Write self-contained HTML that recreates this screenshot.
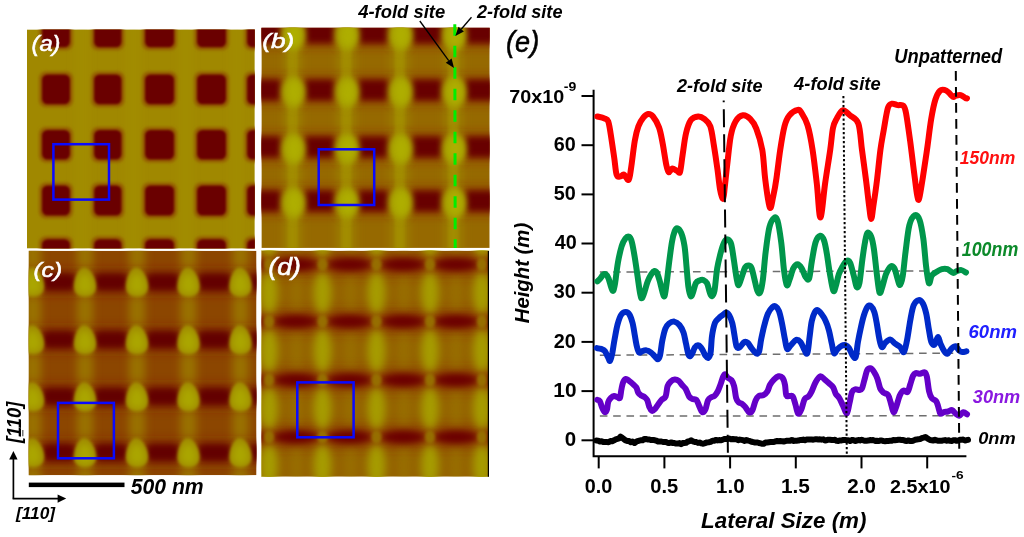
<!DOCTYPE html>
<html><head><meta charset="utf-8"><title>Figure</title>
<style>
html,body{margin:0;padding:0;background:#fff;}
body{width:1024px;height:537px;overflow:hidden;font-family:"Liberation Sans", sans-serif;}
svg{display:block;filter:blur(0.4px);}
</style></head><body>
<svg width="1024" height="537" viewBox="0 0 1024 537">
<defs>
<filter id="b1" x="-20%" y="-20%" width="140%" height="140%"><feGaussianBlur stdDeviation="1"/></filter>
<filter id="b2" x="-20%" y="-20%" width="140%" height="140%"><feGaussianBlur stdDeviation="1.6"/></filter>
<filter id="b4" x="-30%" y="-30%" width="160%" height="160%"><feGaussianBlur stdDeviation="4"/></filter>
<filter id="b6" x="-30%" y="-30%" width="160%" height="160%"><feGaussianBlur stdDeviation="6"/></filter>
<filter id="b3" x="-30%" y="-30%" width="160%" height="160%"><feGaussianBlur stdDeviation="3"/></filter>
<clipPath id="ca"><rect x="27" y="29.4" width="227.8" height="219.2"/></clipPath>
<clipPath id="cb"><rect x="261.4" y="27.8" width="228.3" height="220.1"/></clipPath>
<clipPath id="cc"><rect x="28.7" y="250.8" width="227.8" height="224.4"/></clipPath>
<clipPath id="cd"><rect x="261.4" y="250.8" width="227" height="225.9"/></clipPath>
</defs>

<g clip-path="url(#ca)">
<rect x="27" y="29.4" width="227.8" height="219.2" fill="#a08800"/>
<g filter="url(#b4)">
<rect x="75.5" y="20" width="13.1" height="240" fill="#a69400" opacity="0.4"/>
<rect x="127.0" y="20" width="12.5" height="240" fill="#a69400" opacity="0.4"/>
<rect x="179.6" y="20" width="11.9" height="240" fill="#a69400" opacity="0.4"/>
<rect x="231.5" y="20" width="10.1" height="240" fill="#a69400" opacity="0.4"/>
</g>
<g filter="url(#b2)">
<rect x="39.0" y="14.5" width="34.0" height="35.8" rx="7" fill="#945c00"/>
<rect x="39.0" y="71.5" width="34.0" height="35.8" rx="7" fill="#945c00"/>
<rect x="39.0" y="127.0" width="34.0" height="35.5" rx="7" fill="#945c00"/>
<rect x="39.0" y="182.5" width="34.0" height="36.0" rx="7" fill="#945c00"/>
<rect x="39.0" y="236.2" width="34.0" height="35.3" rx="7" fill="#945c00"/>
<rect x="91.1" y="14.5" width="33.4" height="35.8" rx="7" fill="#945c00"/>
<rect x="91.1" y="71.5" width="33.4" height="35.8" rx="7" fill="#945c00"/>
<rect x="91.1" y="127.0" width="33.4" height="35.5" rx="7" fill="#945c00"/>
<rect x="91.1" y="182.5" width="33.4" height="36.0" rx="7" fill="#945c00"/>
<rect x="91.1" y="236.2" width="33.4" height="35.3" rx="7" fill="#945c00"/>
<rect x="142.0" y="14.5" width="35.1" height="35.8" rx="7" fill="#945c00"/>
<rect x="142.0" y="71.5" width="35.1" height="35.8" rx="7" fill="#945c00"/>
<rect x="142.0" y="127.0" width="35.1" height="35.5" rx="7" fill="#945c00"/>
<rect x="142.0" y="182.5" width="35.1" height="36.0" rx="7" fill="#945c00"/>
<rect x="142.0" y="236.2" width="35.1" height="35.3" rx="7" fill="#945c00"/>
<rect x="194.0" y="14.5" width="35.0" height="35.8" rx="7" fill="#945c00"/>
<rect x="194.0" y="71.5" width="35.0" height="35.8" rx="7" fill="#945c00"/>
<rect x="194.0" y="127.0" width="35.0" height="35.5" rx="7" fill="#945c00"/>
<rect x="194.0" y="182.5" width="35.0" height="36.0" rx="7" fill="#945c00"/>
<rect x="194.0" y="236.2" width="35.0" height="35.3" rx="7" fill="#945c00"/>
<rect x="244.1" y="14.5" width="34.4" height="35.8" rx="7" fill="#945c00"/>
<rect x="244.1" y="71.5" width="34.4" height="35.8" rx="7" fill="#945c00"/>
<rect x="244.1" y="127.0" width="34.4" height="35.5" rx="7" fill="#945c00"/>
<rect x="244.1" y="182.5" width="34.4" height="36.0" rx="7" fill="#945c00"/>
<rect x="244.1" y="236.2" width="34.4" height="35.3" rx="7" fill="#945c00"/>
</g>
<g filter="url(#b1)">
<rect x="42.0" y="17.5" width="28.0" height="29.8" rx="5.5" fill="#6a0000"/>
<rect x="42.0" y="74.5" width="28.0" height="29.8" rx="5.5" fill="#6a0000"/>
<rect x="42.0" y="130.0" width="28.0" height="29.5" rx="5.5" fill="#6a0000"/>
<rect x="42.0" y="185.5" width="28.0" height="30.0" rx="5.5" fill="#6a0000"/>
<rect x="42.0" y="239.2" width="28.0" height="29.3" rx="5.5" fill="#6a0000"/>
<rect x="94.1" y="17.5" width="27.4" height="29.8" rx="5.5" fill="#6a0000"/>
<rect x="94.1" y="74.5" width="27.4" height="29.8" rx="5.5" fill="#6a0000"/>
<rect x="94.1" y="130.0" width="27.4" height="29.5" rx="5.5" fill="#6a0000"/>
<rect x="94.1" y="185.5" width="27.4" height="30.0" rx="5.5" fill="#6a0000"/>
<rect x="94.1" y="239.2" width="27.4" height="29.3" rx="5.5" fill="#6a0000"/>
<rect x="145.0" y="17.5" width="29.1" height="29.8" rx="5.5" fill="#6a0000"/>
<rect x="145.0" y="74.5" width="29.1" height="29.8" rx="5.5" fill="#6a0000"/>
<rect x="145.0" y="130.0" width="29.1" height="29.5" rx="5.5" fill="#6a0000"/>
<rect x="145.0" y="185.5" width="29.1" height="30.0" rx="5.5" fill="#6a0000"/>
<rect x="145.0" y="239.2" width="29.1" height="29.3" rx="5.5" fill="#6a0000"/>
<rect x="197.0" y="17.5" width="29.0" height="29.8" rx="5.5" fill="#6a0000"/>
<rect x="197.0" y="74.5" width="29.0" height="29.8" rx="5.5" fill="#6a0000"/>
<rect x="197.0" y="130.0" width="29.0" height="29.5" rx="5.5" fill="#6a0000"/>
<rect x="197.0" y="185.5" width="29.0" height="30.0" rx="5.5" fill="#6a0000"/>
<rect x="197.0" y="239.2" width="29.0" height="29.3" rx="5.5" fill="#6a0000"/>
<rect x="247.1" y="17.5" width="28.4" height="29.8" rx="5.5" fill="#6a0000"/>
<rect x="247.1" y="74.5" width="28.4" height="29.8" rx="5.5" fill="#6a0000"/>
<rect x="247.1" y="130.0" width="28.4" height="29.5" rx="5.5" fill="#6a0000"/>
<rect x="247.1" y="185.5" width="28.4" height="30.0" rx="5.5" fill="#6a0000"/>
<rect x="247.1" y="239.2" width="28.4" height="29.3" rx="5.5" fill="#6a0000"/>
</g>
</g>
<g clip-path="url(#cb)">
<rect x="261.4" y="27.8" width="228.3" height="220.1" fill="#966900"/>
<g filter="url(#b4)">
<rect x="230.0" y="20" width="18" height="240" fill="#9c8000"/>
<rect x="283.6" y="20" width="18" height="240" fill="#9c8000"/>
<rect x="337.3" y="20" width="18" height="240" fill="#9c8000"/>
<rect x="390.8" y="20" width="18" height="240" fill="#9c8000"/>
<rect x="444.5" y="20" width="18" height="240" fill="#9c8000"/>
<rect x="498.0" y="20" width="18" height="240" fill="#9c8000"/>
</g>
<g filter="url(#b6)">
<rect x="250" y="21.0" width="260" height="24" fill="#8a2800" opacity="0.8"/>
<rect x="250" y="78.0" width="260" height="24" fill="#8a2800" opacity="0.8"/>
<rect x="250" y="135.0" width="260" height="24" fill="#8a2800" opacity="0.8"/>
<rect x="250" y="189.0" width="260" height="24" fill="#8a2800" opacity="0.8"/>
</g>
<g filter="url(#b2)">
<rect x="234.0" y="20" width="10" height="240" fill="#a89a00" opacity="0.5"/>
<rect x="287.6" y="20" width="10" height="240" fill="#a89a00" opacity="0.5"/>
<rect x="341.3" y="20" width="10" height="240" fill="#a89a00" opacity="0.5"/>
<rect x="394.8" y="20" width="10" height="240" fill="#a89a00" opacity="0.5"/>
<rect x="448.5" y="20" width="10" height="240" fill="#a89a00" opacity="0.5"/>
<rect x="502.0" y="20" width="10" height="240" fill="#a89a00" opacity="0.5"/>
</g>
<g filter="url(#b3)">
<rect x="248.8" y="23.0" width="34" height="20" rx="7" fill="#680000"/>
<rect x="302.5" y="23.0" width="34" height="20" rx="7" fill="#680000"/>
<rect x="356.1" y="23.0" width="34" height="20" rx="7" fill="#680000"/>
<rect x="409.6" y="23.0" width="34" height="20" rx="7" fill="#680000"/>
<rect x="463.2" y="23.0" width="34" height="20" rx="7" fill="#680000"/>
<rect x="248.8" y="80.0" width="34" height="20" rx="7" fill="#680000"/>
<rect x="302.5" y="80.0" width="34" height="20" rx="7" fill="#680000"/>
<rect x="356.1" y="80.0" width="34" height="20" rx="7" fill="#680000"/>
<rect x="409.6" y="80.0" width="34" height="20" rx="7" fill="#680000"/>
<rect x="463.2" y="80.0" width="34" height="20" rx="7" fill="#680000"/>
<rect x="248.8" y="137.0" width="34" height="20" rx="7" fill="#680000"/>
<rect x="302.5" y="137.0" width="34" height="20" rx="7" fill="#680000"/>
<rect x="356.1" y="137.0" width="34" height="20" rx="7" fill="#680000"/>
<rect x="409.6" y="137.0" width="34" height="20" rx="7" fill="#680000"/>
<rect x="463.2" y="137.0" width="34" height="20" rx="7" fill="#680000"/>
<rect x="248.8" y="191.0" width="34" height="20" rx="7" fill="#680000"/>
<rect x="302.5" y="191.0" width="34" height="20" rx="7" fill="#680000"/>
<rect x="356.1" y="191.0" width="34" height="20" rx="7" fill="#680000"/>
<rect x="409.6" y="191.0" width="34" height="20" rx="7" fill="#680000"/>
<rect x="463.2" y="191.0" width="34" height="20" rx="7" fill="#680000"/>
</g>
<g filter="url(#b3)">
<ellipse cx="239.5" cy="35.0" rx="12.5" ry="17" fill="#a49c00"/>
<ellipse cx="293.1" cy="35.0" rx="12.5" ry="17" fill="#a49c00"/>
<ellipse cx="346.8" cy="35.0" rx="12.5" ry="17" fill="#a49c00"/>
<ellipse cx="400.3" cy="35.0" rx="12.5" ry="17" fill="#a49c00"/>
<ellipse cx="454.0" cy="35.0" rx="12.5" ry="17" fill="#a49c00"/>
<ellipse cx="507.5" cy="35.0" rx="12.5" ry="17" fill="#a49c00"/>
<ellipse cx="239.5" cy="92.0" rx="12.5" ry="17" fill="#a49c00"/>
<ellipse cx="293.1" cy="92.0" rx="12.5" ry="17" fill="#a49c00"/>
<ellipse cx="346.8" cy="92.0" rx="12.5" ry="17" fill="#a49c00"/>
<ellipse cx="400.3" cy="92.0" rx="12.5" ry="17" fill="#a49c00"/>
<ellipse cx="454.0" cy="92.0" rx="12.5" ry="17" fill="#a49c00"/>
<ellipse cx="507.5" cy="92.0" rx="12.5" ry="17" fill="#a49c00"/>
<ellipse cx="239.5" cy="149.0" rx="12.5" ry="17" fill="#a49c00"/>
<ellipse cx="293.1" cy="149.0" rx="12.5" ry="17" fill="#a49c00"/>
<ellipse cx="346.8" cy="149.0" rx="12.5" ry="17" fill="#a49c00"/>
<ellipse cx="400.3" cy="149.0" rx="12.5" ry="17" fill="#a49c00"/>
<ellipse cx="454.0" cy="149.0" rx="12.5" ry="17" fill="#a49c00"/>
<ellipse cx="507.5" cy="149.0" rx="12.5" ry="17" fill="#a49c00"/>
<ellipse cx="239.5" cy="203.0" rx="12.5" ry="17" fill="#a49c00"/>
<ellipse cx="293.1" cy="203.0" rx="12.5" ry="17" fill="#a49c00"/>
<ellipse cx="346.8" cy="203.0" rx="12.5" ry="17" fill="#a49c00"/>
<ellipse cx="400.3" cy="203.0" rx="12.5" ry="17" fill="#a49c00"/>
<ellipse cx="454.0" cy="203.0" rx="12.5" ry="17" fill="#a49c00"/>
<ellipse cx="507.5" cy="203.0" rx="12.5" ry="17" fill="#a49c00"/>
</g>
<g filter="url(#b3)">
<ellipse cx="240.5" cy="35.0" rx="8" ry="12" fill="#aeae00"/>
<ellipse cx="294.1" cy="35.0" rx="8" ry="12" fill="#aeae00"/>
<ellipse cx="347.8" cy="35.0" rx="8" ry="12" fill="#aeae00"/>
<ellipse cx="401.3" cy="35.0" rx="8" ry="12" fill="#aeae00"/>
<ellipse cx="455.0" cy="35.0" rx="8" ry="12" fill="#aeae00"/>
<ellipse cx="508.5" cy="35.0" rx="8" ry="12" fill="#aeae00"/>
<ellipse cx="240.5" cy="92.0" rx="8" ry="12" fill="#aeae00"/>
<ellipse cx="294.1" cy="92.0" rx="8" ry="12" fill="#aeae00"/>
<ellipse cx="347.8" cy="92.0" rx="8" ry="12" fill="#aeae00"/>
<ellipse cx="401.3" cy="92.0" rx="8" ry="12" fill="#aeae00"/>
<ellipse cx="455.0" cy="92.0" rx="8" ry="12" fill="#aeae00"/>
<ellipse cx="508.5" cy="92.0" rx="8" ry="12" fill="#aeae00"/>
<ellipse cx="240.5" cy="149.0" rx="8" ry="12" fill="#aeae00"/>
<ellipse cx="294.1" cy="149.0" rx="8" ry="12" fill="#aeae00"/>
<ellipse cx="347.8" cy="149.0" rx="8" ry="12" fill="#aeae00"/>
<ellipse cx="401.3" cy="149.0" rx="8" ry="12" fill="#aeae00"/>
<ellipse cx="455.0" cy="149.0" rx="8" ry="12" fill="#aeae00"/>
<ellipse cx="508.5" cy="149.0" rx="8" ry="12" fill="#aeae00"/>
<ellipse cx="240.5" cy="203.0" rx="8" ry="12" fill="#aeae00"/>
<ellipse cx="294.1" cy="203.0" rx="8" ry="12" fill="#aeae00"/>
<ellipse cx="347.8" cy="203.0" rx="8" ry="12" fill="#aeae00"/>
<ellipse cx="401.3" cy="203.0" rx="8" ry="12" fill="#aeae00"/>
<ellipse cx="455.0" cy="203.0" rx="8" ry="12" fill="#aeae00"/>
<ellipse cx="508.5" cy="203.0" rx="8" ry="12" fill="#aeae00"/>
</g>
</g>
<g clip-path="url(#cc)">
<rect x="28.7" y="250.8" width="227.8" height="224.4" fill="#8c4600"/>
<g filter="url(#b4)">
<rect x="-27.0" y="240" width="16" height="250" fill="#9a7200"/>
<rect x="25.0" y="240" width="16" height="250" fill="#9a7200"/>
<rect x="77.0" y="240" width="16" height="250" fill="#9a7200"/>
<rect x="129.0" y="240" width="16" height="250" fill="#9a7200"/>
<rect x="180.5" y="240" width="16" height="250" fill="#9a7200"/>
<rect x="232.5" y="240" width="16" height="250" fill="#9a7200"/>
<rect x="284.5" y="240" width="16" height="250" fill="#9a7200"/>
</g>
<g filter="url(#b6)">
<rect x="20" y="271.0" width="250" height="22" fill="#7e2000" opacity="0.75"/>
<rect x="20" y="328.5" width="250" height="22" fill="#7e2000" opacity="0.75"/>
<rect x="20" y="385.5" width="250" height="22" fill="#7e2000" opacity="0.75"/>
<rect x="20" y="441.5" width="250" height="22" fill="#7e2000" opacity="0.75"/>
</g>
<g filter="url(#b3)">
<rect x="-10.0" y="273.5" width="34" height="17" rx="7" fill="#640000"/>
<rect x="42.0" y="273.5" width="34" height="17" rx="7" fill="#640000"/>
<rect x="94.0" y="273.5" width="34" height="17" rx="7" fill="#640000"/>
<rect x="145.8" y="273.5" width="34" height="17" rx="7" fill="#640000"/>
<rect x="197.5" y="273.5" width="34" height="17" rx="7" fill="#640000"/>
<rect x="249.5" y="273.5" width="34" height="17" rx="7" fill="#640000"/>
<rect x="-10.0" y="331.0" width="34" height="17" rx="7" fill="#640000"/>
<rect x="42.0" y="331.0" width="34" height="17" rx="7" fill="#640000"/>
<rect x="94.0" y="331.0" width="34" height="17" rx="7" fill="#640000"/>
<rect x="145.8" y="331.0" width="34" height="17" rx="7" fill="#640000"/>
<rect x="197.5" y="331.0" width="34" height="17" rx="7" fill="#640000"/>
<rect x="249.5" y="331.0" width="34" height="17" rx="7" fill="#640000"/>
<rect x="-10.0" y="388.0" width="34" height="17" rx="7" fill="#640000"/>
<rect x="42.0" y="388.0" width="34" height="17" rx="7" fill="#640000"/>
<rect x="94.0" y="388.0" width="34" height="17" rx="7" fill="#640000"/>
<rect x="145.8" y="388.0" width="34" height="17" rx="7" fill="#640000"/>
<rect x="197.5" y="388.0" width="34" height="17" rx="7" fill="#640000"/>
<rect x="249.5" y="388.0" width="34" height="17" rx="7" fill="#640000"/>
<rect x="-10.0" y="444.0" width="34" height="17" rx="7" fill="#640000"/>
<rect x="42.0" y="444.0" width="34" height="17" rx="7" fill="#640000"/>
<rect x="94.0" y="444.0" width="34" height="17" rx="7" fill="#640000"/>
<rect x="145.8" y="444.0" width="34" height="17" rx="7" fill="#640000"/>
<rect x="197.5" y="444.0" width="34" height="17" rx="7" fill="#640000"/>
<rect x="249.5" y="444.0" width="34" height="17" rx="7" fill="#640000"/>
</g>
<g filter="url(#b2)">
<path d="M-20.0,267.5 C-13.5,267.5 -8.0,278.5 -8.0,286.4 C-8.0,294.2 -13.5,296.5 -19.0,296.5 C-24.5,296.5 -30.0,294.2 -30.0,286.4 C-30.0,278.5 -25.6,267.5 -20.0,267.5 Z" fill="#a08c00"/>
<path d="M32.0,267.5 C38.5,267.5 44.0,278.5 44.0,286.4 C44.0,294.2 38.5,296.5 33.0,296.5 C27.5,296.5 22.0,294.2 22.0,286.4 C22.0,278.5 26.4,267.5 32.0,267.5 Z" fill="#a08c00"/>
<path d="M84.0,267.5 C90.5,267.5 96.0,278.5 96.0,286.4 C96.0,294.2 90.5,296.5 85.0,296.5 C79.5,296.5 74.0,294.2 74.0,286.4 C74.0,278.5 78.4,267.5 84.0,267.5 Z" fill="#a08c00"/>
<path d="M136.0,267.5 C142.5,267.5 148.0,278.5 148.0,286.4 C148.0,294.2 142.5,296.5 137.0,296.5 C131.5,296.5 126.0,294.2 126.0,286.4 C126.0,278.5 130.4,267.5 136.0,267.5 Z" fill="#a08c00"/>
<path d="M187.5,267.5 C194.0,267.5 199.5,278.5 199.5,286.4 C199.5,294.2 194.0,296.5 188.5,296.5 C183.0,296.5 177.5,294.2 177.5,286.4 C177.5,278.5 181.9,267.5 187.5,267.5 Z" fill="#a08c00"/>
<path d="M239.5,267.5 C246.0,267.5 251.5,278.5 251.5,286.4 C251.5,294.2 246.0,296.5 240.5,296.5 C235.0,296.5 229.5,294.2 229.5,286.4 C229.5,278.5 233.9,267.5 239.5,267.5 Z" fill="#a08c00"/>
<path d="M291.5,267.5 C298.0,267.5 303.5,278.5 303.5,286.4 C303.5,294.2 298.0,296.5 292.5,296.5 C287.0,296.5 281.5,294.2 281.5,286.4 C281.5,278.5 285.9,267.5 291.5,267.5 Z" fill="#a08c00"/>
<path d="M-20.0,325.0 C-13.5,325.0 -8.0,336.0 -8.0,343.9 C-8.0,351.7 -13.5,354.0 -19.0,354.0 C-24.5,354.0 -30.0,351.7 -30.0,343.9 C-30.0,336.0 -25.6,325.0 -20.0,325.0 Z" fill="#a08c00"/>
<path d="M32.0,325.0 C38.5,325.0 44.0,336.0 44.0,343.9 C44.0,351.7 38.5,354.0 33.0,354.0 C27.5,354.0 22.0,351.7 22.0,343.9 C22.0,336.0 26.4,325.0 32.0,325.0 Z" fill="#a08c00"/>
<path d="M84.0,325.0 C90.5,325.0 96.0,336.0 96.0,343.9 C96.0,351.7 90.5,354.0 85.0,354.0 C79.5,354.0 74.0,351.7 74.0,343.9 C74.0,336.0 78.4,325.0 84.0,325.0 Z" fill="#a08c00"/>
<path d="M136.0,325.0 C142.5,325.0 148.0,336.0 148.0,343.9 C148.0,351.7 142.5,354.0 137.0,354.0 C131.5,354.0 126.0,351.7 126.0,343.9 C126.0,336.0 130.4,325.0 136.0,325.0 Z" fill="#a08c00"/>
<path d="M187.5,325.0 C194.0,325.0 199.5,336.0 199.5,343.9 C199.5,351.7 194.0,354.0 188.5,354.0 C183.0,354.0 177.5,351.7 177.5,343.9 C177.5,336.0 181.9,325.0 187.5,325.0 Z" fill="#a08c00"/>
<path d="M239.5,325.0 C246.0,325.0 251.5,336.0 251.5,343.9 C251.5,351.7 246.0,354.0 240.5,354.0 C235.0,354.0 229.5,351.7 229.5,343.9 C229.5,336.0 233.9,325.0 239.5,325.0 Z" fill="#a08c00"/>
<path d="M291.5,325.0 C298.0,325.0 303.5,336.0 303.5,343.9 C303.5,351.7 298.0,354.0 292.5,354.0 C287.0,354.0 281.5,351.7 281.5,343.9 C281.5,336.0 285.9,325.0 291.5,325.0 Z" fill="#a08c00"/>
<path d="M-20.0,382.0 C-13.5,382.0 -8.0,393.0 -8.0,400.9 C-8.0,408.7 -13.5,411.0 -19.0,411.0 C-24.5,411.0 -30.0,408.7 -30.0,400.9 C-30.0,393.0 -25.6,382.0 -20.0,382.0 Z" fill="#a08c00"/>
<path d="M32.0,382.0 C38.5,382.0 44.0,393.0 44.0,400.9 C44.0,408.7 38.5,411.0 33.0,411.0 C27.5,411.0 22.0,408.7 22.0,400.9 C22.0,393.0 26.4,382.0 32.0,382.0 Z" fill="#a08c00"/>
<path d="M84.0,382.0 C90.5,382.0 96.0,393.0 96.0,400.9 C96.0,408.7 90.5,411.0 85.0,411.0 C79.5,411.0 74.0,408.7 74.0,400.9 C74.0,393.0 78.4,382.0 84.0,382.0 Z" fill="#a08c00"/>
<path d="M136.0,382.0 C142.5,382.0 148.0,393.0 148.0,400.9 C148.0,408.7 142.5,411.0 137.0,411.0 C131.5,411.0 126.0,408.7 126.0,400.9 C126.0,393.0 130.4,382.0 136.0,382.0 Z" fill="#a08c00"/>
<path d="M187.5,382.0 C194.0,382.0 199.5,393.0 199.5,400.9 C199.5,408.7 194.0,411.0 188.5,411.0 C183.0,411.0 177.5,408.7 177.5,400.9 C177.5,393.0 181.9,382.0 187.5,382.0 Z" fill="#a08c00"/>
<path d="M239.5,382.0 C246.0,382.0 251.5,393.0 251.5,400.9 C251.5,408.7 246.0,411.0 240.5,411.0 C235.0,411.0 229.5,408.7 229.5,400.9 C229.5,393.0 233.9,382.0 239.5,382.0 Z" fill="#a08c00"/>
<path d="M291.5,382.0 C298.0,382.0 303.5,393.0 303.5,400.9 C303.5,408.7 298.0,411.0 292.5,411.0 C287.0,411.0 281.5,408.7 281.5,400.9 C281.5,393.0 285.9,382.0 291.5,382.0 Z" fill="#a08c00"/>
<path d="M-20.0,438.0 C-13.5,438.0 -8.0,449.0 -8.0,456.9 C-8.0,464.7 -13.5,467.0 -19.0,467.0 C-24.5,467.0 -30.0,464.7 -30.0,456.9 C-30.0,449.0 -25.6,438.0 -20.0,438.0 Z" fill="#a08c00"/>
<path d="M32.0,438.0 C38.5,438.0 44.0,449.0 44.0,456.9 C44.0,464.7 38.5,467.0 33.0,467.0 C27.5,467.0 22.0,464.7 22.0,456.9 C22.0,449.0 26.4,438.0 32.0,438.0 Z" fill="#a08c00"/>
<path d="M84.0,438.0 C90.5,438.0 96.0,449.0 96.0,456.9 C96.0,464.7 90.5,467.0 85.0,467.0 C79.5,467.0 74.0,464.7 74.0,456.9 C74.0,449.0 78.4,438.0 84.0,438.0 Z" fill="#a08c00"/>
<path d="M136.0,438.0 C142.5,438.0 148.0,449.0 148.0,456.9 C148.0,464.7 142.5,467.0 137.0,467.0 C131.5,467.0 126.0,464.7 126.0,456.9 C126.0,449.0 130.4,438.0 136.0,438.0 Z" fill="#a08c00"/>
<path d="M187.5,438.0 C194.0,438.0 199.5,449.0 199.5,456.9 C199.5,464.7 194.0,467.0 188.5,467.0 C183.0,467.0 177.5,464.7 177.5,456.9 C177.5,449.0 181.9,438.0 187.5,438.0 Z" fill="#a08c00"/>
<path d="M239.5,438.0 C246.0,438.0 251.5,449.0 251.5,456.9 C251.5,464.7 246.0,467.0 240.5,467.0 C235.0,467.0 229.5,464.7 229.5,456.9 C229.5,449.0 233.9,438.0 239.5,438.0 Z" fill="#a08c00"/>
<path d="M291.5,438.0 C298.0,438.0 303.5,449.0 303.5,456.9 C303.5,464.7 298.0,467.0 292.5,467.0 C287.0,467.0 281.5,464.7 281.5,456.9 C281.5,449.0 285.9,438.0 291.5,438.0 Z" fill="#a08c00"/>
</g>
<g filter="url(#b3)">
<path d="M-20.0,273.0 C-15.0,273.0 -11.0,281.0 -11.0,286.6 C-11.0,292.3 -15.0,294.0 -19.0,294.0 C-23.0,294.0 -27.0,292.3 -27.0,286.6 C-27.0,281.0 -23.8,273.0 -20.0,273.0 Z" fill="#aaa600"/>
<path d="M32.0,273.0 C37.0,273.0 41.0,281.0 41.0,286.6 C41.0,292.3 37.0,294.0 33.0,294.0 C29.0,294.0 25.0,292.3 25.0,286.6 C25.0,281.0 28.2,273.0 32.0,273.0 Z" fill="#aaa600"/>
<path d="M84.0,273.0 C89.0,273.0 93.0,281.0 93.0,286.6 C93.0,292.3 89.0,294.0 85.0,294.0 C81.0,294.0 77.0,292.3 77.0,286.6 C77.0,281.0 80.2,273.0 84.0,273.0 Z" fill="#aaa600"/>
<path d="M136.0,273.0 C141.0,273.0 145.0,281.0 145.0,286.6 C145.0,292.3 141.0,294.0 137.0,294.0 C133.0,294.0 129.0,292.3 129.0,286.6 C129.0,281.0 132.2,273.0 136.0,273.0 Z" fill="#aaa600"/>
<path d="M187.5,273.0 C192.5,273.0 196.5,281.0 196.5,286.6 C196.5,292.3 192.5,294.0 188.5,294.0 C184.5,294.0 180.5,292.3 180.5,286.6 C180.5,281.0 183.7,273.0 187.5,273.0 Z" fill="#aaa600"/>
<path d="M239.5,273.0 C244.5,273.0 248.5,281.0 248.5,286.6 C248.5,292.3 244.5,294.0 240.5,294.0 C236.5,294.0 232.5,292.3 232.5,286.6 C232.5,281.0 235.7,273.0 239.5,273.0 Z" fill="#aaa600"/>
<path d="M291.5,273.0 C296.5,273.0 300.5,281.0 300.5,286.6 C300.5,292.3 296.5,294.0 292.5,294.0 C288.5,294.0 284.5,292.3 284.5,286.6 C284.5,281.0 287.7,273.0 291.5,273.0 Z" fill="#aaa600"/>
<path d="M-20.0,330.5 C-15.0,330.5 -11.0,338.5 -11.0,344.1 C-11.0,349.8 -15.0,351.5 -19.0,351.5 C-23.0,351.5 -27.0,349.8 -27.0,344.1 C-27.0,338.5 -23.8,330.5 -20.0,330.5 Z" fill="#aaa600"/>
<path d="M32.0,330.5 C37.0,330.5 41.0,338.5 41.0,344.1 C41.0,349.8 37.0,351.5 33.0,351.5 C29.0,351.5 25.0,349.8 25.0,344.1 C25.0,338.5 28.2,330.5 32.0,330.5 Z" fill="#aaa600"/>
<path d="M84.0,330.5 C89.0,330.5 93.0,338.5 93.0,344.1 C93.0,349.8 89.0,351.5 85.0,351.5 C81.0,351.5 77.0,349.8 77.0,344.1 C77.0,338.5 80.2,330.5 84.0,330.5 Z" fill="#aaa600"/>
<path d="M136.0,330.5 C141.0,330.5 145.0,338.5 145.0,344.1 C145.0,349.8 141.0,351.5 137.0,351.5 C133.0,351.5 129.0,349.8 129.0,344.1 C129.0,338.5 132.2,330.5 136.0,330.5 Z" fill="#aaa600"/>
<path d="M187.5,330.5 C192.5,330.5 196.5,338.5 196.5,344.1 C196.5,349.8 192.5,351.5 188.5,351.5 C184.5,351.5 180.5,349.8 180.5,344.1 C180.5,338.5 183.7,330.5 187.5,330.5 Z" fill="#aaa600"/>
<path d="M239.5,330.5 C244.5,330.5 248.5,338.5 248.5,344.1 C248.5,349.8 244.5,351.5 240.5,351.5 C236.5,351.5 232.5,349.8 232.5,344.1 C232.5,338.5 235.7,330.5 239.5,330.5 Z" fill="#aaa600"/>
<path d="M291.5,330.5 C296.5,330.5 300.5,338.5 300.5,344.1 C300.5,349.8 296.5,351.5 292.5,351.5 C288.5,351.5 284.5,349.8 284.5,344.1 C284.5,338.5 287.7,330.5 291.5,330.5 Z" fill="#aaa600"/>
<path d="M-20.0,387.5 C-15.0,387.5 -11.0,395.5 -11.0,401.1 C-11.0,406.8 -15.0,408.5 -19.0,408.5 C-23.0,408.5 -27.0,406.8 -27.0,401.1 C-27.0,395.5 -23.8,387.5 -20.0,387.5 Z" fill="#aaa600"/>
<path d="M32.0,387.5 C37.0,387.5 41.0,395.5 41.0,401.1 C41.0,406.8 37.0,408.5 33.0,408.5 C29.0,408.5 25.0,406.8 25.0,401.1 C25.0,395.5 28.2,387.5 32.0,387.5 Z" fill="#aaa600"/>
<path d="M84.0,387.5 C89.0,387.5 93.0,395.5 93.0,401.1 C93.0,406.8 89.0,408.5 85.0,408.5 C81.0,408.5 77.0,406.8 77.0,401.1 C77.0,395.5 80.2,387.5 84.0,387.5 Z" fill="#aaa600"/>
<path d="M136.0,387.5 C141.0,387.5 145.0,395.5 145.0,401.1 C145.0,406.8 141.0,408.5 137.0,408.5 C133.0,408.5 129.0,406.8 129.0,401.1 C129.0,395.5 132.2,387.5 136.0,387.5 Z" fill="#aaa600"/>
<path d="M187.5,387.5 C192.5,387.5 196.5,395.5 196.5,401.1 C196.5,406.8 192.5,408.5 188.5,408.5 C184.5,408.5 180.5,406.8 180.5,401.1 C180.5,395.5 183.7,387.5 187.5,387.5 Z" fill="#aaa600"/>
<path d="M239.5,387.5 C244.5,387.5 248.5,395.5 248.5,401.1 C248.5,406.8 244.5,408.5 240.5,408.5 C236.5,408.5 232.5,406.8 232.5,401.1 C232.5,395.5 235.7,387.5 239.5,387.5 Z" fill="#aaa600"/>
<path d="M291.5,387.5 C296.5,387.5 300.5,395.5 300.5,401.1 C300.5,406.8 296.5,408.5 292.5,408.5 C288.5,408.5 284.5,406.8 284.5,401.1 C284.5,395.5 287.7,387.5 291.5,387.5 Z" fill="#aaa600"/>
<path d="M-20.0,443.5 C-15.0,443.5 -11.0,451.5 -11.0,457.1 C-11.0,462.8 -15.0,464.5 -19.0,464.5 C-23.0,464.5 -27.0,462.8 -27.0,457.1 C-27.0,451.5 -23.8,443.5 -20.0,443.5 Z" fill="#aaa600"/>
<path d="M32.0,443.5 C37.0,443.5 41.0,451.5 41.0,457.1 C41.0,462.8 37.0,464.5 33.0,464.5 C29.0,464.5 25.0,462.8 25.0,457.1 C25.0,451.5 28.2,443.5 32.0,443.5 Z" fill="#aaa600"/>
<path d="M84.0,443.5 C89.0,443.5 93.0,451.5 93.0,457.1 C93.0,462.8 89.0,464.5 85.0,464.5 C81.0,464.5 77.0,462.8 77.0,457.1 C77.0,451.5 80.2,443.5 84.0,443.5 Z" fill="#aaa600"/>
<path d="M136.0,443.5 C141.0,443.5 145.0,451.5 145.0,457.1 C145.0,462.8 141.0,464.5 137.0,464.5 C133.0,464.5 129.0,462.8 129.0,457.1 C129.0,451.5 132.2,443.5 136.0,443.5 Z" fill="#aaa600"/>
<path d="M187.5,443.5 C192.5,443.5 196.5,451.5 196.5,457.1 C196.5,462.8 192.5,464.5 188.5,464.5 C184.5,464.5 180.5,462.8 180.5,457.1 C180.5,451.5 183.7,443.5 187.5,443.5 Z" fill="#aaa600"/>
<path d="M239.5,443.5 C244.5,443.5 248.5,451.5 248.5,457.1 C248.5,462.8 244.5,464.5 240.5,464.5 C236.5,464.5 232.5,462.8 232.5,457.1 C232.5,451.5 235.7,443.5 239.5,443.5 Z" fill="#aaa600"/>
<path d="M291.5,443.5 C296.5,443.5 300.5,451.5 300.5,457.1 C300.5,462.8 296.5,464.5 292.5,464.5 C288.5,464.5 284.5,462.8 284.5,457.1 C284.5,451.5 287.7,443.5 291.5,443.5 Z" fill="#aaa600"/>
</g>
</g>
<g clip-path="url(#cd)">
<rect x="261.4" y="250.8" width="227" height="225.9" fill="#946200"/>
<g filter="url(#b6)">
<rect x="250" y="254.5" width="250" height="20" fill="#8a2c00" opacity="0.8"/>
<rect x="250" y="311.5" width="250" height="20" fill="#8a2c00" opacity="0.8"/>
<rect x="250" y="370.0" width="250" height="20" fill="#8a2c00" opacity="0.8"/>
<rect x="250" y="427.0" width="250" height="20" fill="#8a2c00" opacity="0.8"/>
</g>
<g filter="url(#b4)">
<ellipse cx="269.0" cy="236.0" rx="9" ry="21.5" fill="#a69c00"/>
<ellipse cx="243.0" cy="236.0" rx="6" ry="19.5" fill="#a08800" opacity="0.35"/>
<ellipse cx="322.5" cy="236.0" rx="9" ry="21.5" fill="#a69c00"/>
<ellipse cx="296.5" cy="236.0" rx="6" ry="19.5" fill="#a08800" opacity="0.35"/>
<ellipse cx="376.5" cy="236.0" rx="9" ry="21.5" fill="#a69c00"/>
<ellipse cx="350.5" cy="236.0" rx="6" ry="19.5" fill="#a08800" opacity="0.35"/>
<ellipse cx="430.0" cy="236.0" rx="9" ry="21.5" fill="#a69c00"/>
<ellipse cx="404.0" cy="236.0" rx="6" ry="19.5" fill="#a08800" opacity="0.35"/>
<ellipse cx="482.0" cy="236.0" rx="9" ry="21.5" fill="#a69c00"/>
<ellipse cx="456.0" cy="236.0" rx="6" ry="19.5" fill="#a08800" opacity="0.35"/>
<ellipse cx="535.0" cy="236.0" rx="9" ry="21.5" fill="#a69c00"/>
<ellipse cx="509.0" cy="236.0" rx="6" ry="19.5" fill="#a08800" opacity="0.35"/>
<ellipse cx="269.0" cy="293.0" rx="9" ry="21.5" fill="#a69c00"/>
<ellipse cx="243.0" cy="293.0" rx="6" ry="19.5" fill="#a08800" opacity="0.35"/>
<ellipse cx="322.5" cy="293.0" rx="9" ry="21.5" fill="#a69c00"/>
<ellipse cx="296.5" cy="293.0" rx="6" ry="19.5" fill="#a08800" opacity="0.35"/>
<ellipse cx="376.5" cy="293.0" rx="9" ry="21.5" fill="#a69c00"/>
<ellipse cx="350.5" cy="293.0" rx="6" ry="19.5" fill="#a08800" opacity="0.35"/>
<ellipse cx="430.0" cy="293.0" rx="9" ry="21.5" fill="#a69c00"/>
<ellipse cx="404.0" cy="293.0" rx="6" ry="19.5" fill="#a08800" opacity="0.35"/>
<ellipse cx="482.0" cy="293.0" rx="9" ry="21.5" fill="#a69c00"/>
<ellipse cx="456.0" cy="293.0" rx="6" ry="19.5" fill="#a08800" opacity="0.35"/>
<ellipse cx="535.0" cy="293.0" rx="9" ry="21.5" fill="#a69c00"/>
<ellipse cx="509.0" cy="293.0" rx="6" ry="19.5" fill="#a08800" opacity="0.35"/>
<ellipse cx="269.0" cy="350.8" rx="9" ry="22.2" fill="#a69c00"/>
<ellipse cx="243.0" cy="350.8" rx="6" ry="20.2" fill="#a08800" opacity="0.35"/>
<ellipse cx="322.5" cy="350.8" rx="9" ry="22.2" fill="#a69c00"/>
<ellipse cx="296.5" cy="350.8" rx="6" ry="20.2" fill="#a08800" opacity="0.35"/>
<ellipse cx="376.5" cy="350.8" rx="9" ry="22.2" fill="#a69c00"/>
<ellipse cx="350.5" cy="350.8" rx="6" ry="20.2" fill="#a08800" opacity="0.35"/>
<ellipse cx="430.0" cy="350.8" rx="9" ry="22.2" fill="#a69c00"/>
<ellipse cx="404.0" cy="350.8" rx="6" ry="20.2" fill="#a08800" opacity="0.35"/>
<ellipse cx="482.0" cy="350.8" rx="9" ry="22.2" fill="#a69c00"/>
<ellipse cx="456.0" cy="350.8" rx="6" ry="20.2" fill="#a08800" opacity="0.35"/>
<ellipse cx="535.0" cy="350.8" rx="9" ry="22.2" fill="#a69c00"/>
<ellipse cx="509.0" cy="350.8" rx="6" ry="20.2" fill="#a08800" opacity="0.35"/>
<ellipse cx="269.0" cy="408.5" rx="9" ry="21.5" fill="#a69c00"/>
<ellipse cx="243.0" cy="408.5" rx="6" ry="19.5" fill="#a08800" opacity="0.35"/>
<ellipse cx="322.5" cy="408.5" rx="9" ry="21.5" fill="#a69c00"/>
<ellipse cx="296.5" cy="408.5" rx="6" ry="19.5" fill="#a08800" opacity="0.35"/>
<ellipse cx="376.5" cy="408.5" rx="9" ry="21.5" fill="#a69c00"/>
<ellipse cx="350.5" cy="408.5" rx="6" ry="19.5" fill="#a08800" opacity="0.35"/>
<ellipse cx="430.0" cy="408.5" rx="9" ry="21.5" fill="#a69c00"/>
<ellipse cx="404.0" cy="408.5" rx="6" ry="19.5" fill="#a08800" opacity="0.35"/>
<ellipse cx="482.0" cy="408.5" rx="9" ry="21.5" fill="#a69c00"/>
<ellipse cx="456.0" cy="408.5" rx="6" ry="19.5" fill="#a08800" opacity="0.35"/>
<ellipse cx="535.0" cy="408.5" rx="9" ry="21.5" fill="#a69c00"/>
<ellipse cx="509.0" cy="408.5" rx="6" ry="19.5" fill="#a08800" opacity="0.35"/>
<ellipse cx="269.0" cy="465.5" rx="9" ry="21.5" fill="#a69c00"/>
<ellipse cx="243.0" cy="465.5" rx="6" ry="19.5" fill="#a08800" opacity="0.35"/>
<ellipse cx="322.5" cy="465.5" rx="9" ry="21.5" fill="#a69c00"/>
<ellipse cx="296.5" cy="465.5" rx="6" ry="19.5" fill="#a08800" opacity="0.35"/>
<ellipse cx="376.5" cy="465.5" rx="9" ry="21.5" fill="#a69c00"/>
<ellipse cx="350.5" cy="465.5" rx="6" ry="19.5" fill="#a08800" opacity="0.35"/>
<ellipse cx="430.0" cy="465.5" rx="9" ry="21.5" fill="#a69c00"/>
<ellipse cx="404.0" cy="465.5" rx="6" ry="19.5" fill="#a08800" opacity="0.35"/>
<ellipse cx="482.0" cy="465.5" rx="9" ry="21.5" fill="#a69c00"/>
<ellipse cx="456.0" cy="465.5" rx="6" ry="19.5" fill="#a08800" opacity="0.35"/>
<ellipse cx="535.0" cy="465.5" rx="9" ry="21.5" fill="#a69c00"/>
<ellipse cx="509.0" cy="465.5" rx="6" ry="19.5" fill="#a08800" opacity="0.35"/>
</g>
<g filter="url(#b3)">
<ellipse cx="242.5" cy="264.5" rx="21" ry="6.5" fill="#6c0000"/>
<ellipse cx="295.8" cy="264.5" rx="21" ry="6.5" fill="#6c0000"/>
<ellipse cx="349.5" cy="264.5" rx="21" ry="6.5" fill="#6c0000"/>
<ellipse cx="403.2" cy="264.5" rx="21" ry="6.5" fill="#6c0000"/>
<ellipse cx="456.0" cy="264.5" rx="21" ry="6.5" fill="#6c0000"/>
<ellipse cx="508.5" cy="264.5" rx="21" ry="6.5" fill="#6c0000"/>
<ellipse cx="242.5" cy="321.5" rx="21" ry="6.5" fill="#6c0000"/>
<ellipse cx="295.8" cy="321.5" rx="21" ry="6.5" fill="#6c0000"/>
<ellipse cx="349.5" cy="321.5" rx="21" ry="6.5" fill="#6c0000"/>
<ellipse cx="403.2" cy="321.5" rx="21" ry="6.5" fill="#6c0000"/>
<ellipse cx="456.0" cy="321.5" rx="21" ry="6.5" fill="#6c0000"/>
<ellipse cx="508.5" cy="321.5" rx="21" ry="6.5" fill="#6c0000"/>
<ellipse cx="242.5" cy="380.0" rx="21" ry="6.5" fill="#6c0000"/>
<ellipse cx="295.8" cy="380.0" rx="21" ry="6.5" fill="#6c0000"/>
<ellipse cx="349.5" cy="380.0" rx="21" ry="6.5" fill="#6c0000"/>
<ellipse cx="403.2" cy="380.0" rx="21" ry="6.5" fill="#6c0000"/>
<ellipse cx="456.0" cy="380.0" rx="21" ry="6.5" fill="#6c0000"/>
<ellipse cx="508.5" cy="380.0" rx="21" ry="6.5" fill="#6c0000"/>
<ellipse cx="242.5" cy="437.0" rx="21" ry="6.5" fill="#6c0000"/>
<ellipse cx="295.8" cy="437.0" rx="21" ry="6.5" fill="#6c0000"/>
<ellipse cx="349.5" cy="437.0" rx="21" ry="6.5" fill="#6c0000"/>
<ellipse cx="403.2" cy="437.0" rx="21" ry="6.5" fill="#6c0000"/>
<ellipse cx="456.0" cy="437.0" rx="21" ry="6.5" fill="#6c0000"/>
<ellipse cx="508.5" cy="437.0" rx="21" ry="6.5" fill="#6c0000"/>
</g>
<g filter="url(#b2)">
<ellipse cx="269.0" cy="264.5" rx="5" ry="7" fill="#966e00"/>
<ellipse cx="322.5" cy="264.5" rx="5" ry="7" fill="#966e00"/>
<ellipse cx="376.5" cy="264.5" rx="5" ry="7" fill="#966e00"/>
<ellipse cx="430.0" cy="264.5" rx="5" ry="7" fill="#966e00"/>
<ellipse cx="482.0" cy="264.5" rx="5" ry="7" fill="#966e00"/>
<ellipse cx="535.0" cy="264.5" rx="5" ry="7" fill="#966e00"/>
<ellipse cx="269.0" cy="321.5" rx="5" ry="7" fill="#966e00"/>
<ellipse cx="322.5" cy="321.5" rx="5" ry="7" fill="#966e00"/>
<ellipse cx="376.5" cy="321.5" rx="5" ry="7" fill="#966e00"/>
<ellipse cx="430.0" cy="321.5" rx="5" ry="7" fill="#966e00"/>
<ellipse cx="482.0" cy="321.5" rx="5" ry="7" fill="#966e00"/>
<ellipse cx="535.0" cy="321.5" rx="5" ry="7" fill="#966e00"/>
<ellipse cx="269.0" cy="380.0" rx="5" ry="7" fill="#966e00"/>
<ellipse cx="322.5" cy="380.0" rx="5" ry="7" fill="#966e00"/>
<ellipse cx="376.5" cy="380.0" rx="5" ry="7" fill="#966e00"/>
<ellipse cx="430.0" cy="380.0" rx="5" ry="7" fill="#966e00"/>
<ellipse cx="482.0" cy="380.0" rx="5" ry="7" fill="#966e00"/>
<ellipse cx="535.0" cy="380.0" rx="5" ry="7" fill="#966e00"/>
<ellipse cx="269.0" cy="437.0" rx="5" ry="7" fill="#966e00"/>
<ellipse cx="322.5" cy="437.0" rx="5" ry="7" fill="#966e00"/>
<ellipse cx="376.5" cy="437.0" rx="5" ry="7" fill="#966e00"/>
<ellipse cx="430.0" cy="437.0" rx="5" ry="7" fill="#966e00"/>
<ellipse cx="482.0" cy="437.0" rx="5" ry="7" fill="#966e00"/>
<ellipse cx="535.0" cy="437.0" rx="5" ry="7" fill="#966e00"/>
</g>
</g>
<rect x="53.4" y="144.2" width="55.6" height="55.4" fill="none" stroke="#0a0aff" stroke-width="2.5"/>
<rect x="318.7" y="149.3" width="55.5" height="55.7" fill="none" stroke="#0a0aff" stroke-width="2.5"/>
<rect x="58.0" y="402.9" width="55.9" height="55.4" fill="none" stroke="#0a0aff" stroke-width="2.5"/>
<rect x="297.3" y="382.4" width="56.3" height="54.9" fill="none" stroke="#0a0aff" stroke-width="2.5"/>
<line x1="488.4" y1="251" x2="488.4" y2="476.7" stroke="#000" stroke-width="1.2"/>
<line x1="454.8" y1="24.2" x2="455.2" y2="248" stroke="#00ee00" stroke-width="3" stroke-dasharray="11.5 10"/>
<line x1="419.8" y1="21.0" x2="448.7" y2="60.7" stroke="#000" stroke-width="1.3"/><path d="M454.0,68.0 L445.8,62.8 L451.6,58.6 Z" fill="#000"/>
<line x1="471.5" y1="17.3" x2="461.2" y2="29.2" stroke="#000" stroke-width="1.3"/><path d="M455.3,36.0 L458.5,26.8 L463.9,31.6 Z" fill="#000"/>
<rect x="28.8" y="482.6" width="95.7" height="4.5" fill="#000"/>
<line x1="13.4" y1="458" x2="13.4" y2="498.6" stroke="#000" stroke-width="1.7"/>
<path d="M13.4,450.9 L9.2,459.5 L17.6,459.5 Z" fill="#000"/>
<line x1="12.6" y1="498.6" x2="58.5" y2="498.6" stroke="#000" stroke-width="1.7"/>
<path d="M66.2,498.6 L57.6,494.4 L57.6,502.8 Z" fill="#000"/>
<line x1="22.8" y1="430.1" x2="22.8" y2="436.2" stroke="#555" stroke-width="1.2"/>
<line x1="597" y1="272.1" x2="962" y2="270.9" stroke="#6e6e6e" stroke-width="1.5" stroke-dasharray="7.6 5.7" stroke-dashoffset="10.45"/>
<line x1="597" y1="355.3" x2="962" y2="353.1" stroke="#6e6e6e" stroke-width="1.5" stroke-dasharray="7.6 5.7" stroke-dashoffset="10.45"/>
<line x1="597" y1="416.1" x2="962" y2="415.8" stroke="#6e6e6e" stroke-width="1.5" stroke-dasharray="7.6 5.7" stroke-dashoffset="10.45"/>
<path d="M593.6,89.7 L593.6,456.3 L966.4,456.3" fill="none" stroke="#000" stroke-width="2"/>
<line x1="581.5" y1="440.3" x2="593.6" y2="440.3" stroke="#000" stroke-width="2"/>
<line x1="581.5" y1="391.1" x2="593.6" y2="391.1" stroke="#000" stroke-width="2"/>
<line x1="581.5" y1="341.9" x2="593.6" y2="341.9" stroke="#000" stroke-width="2"/>
<line x1="581.5" y1="292.7" x2="593.6" y2="292.7" stroke="#000" stroke-width="2"/>
<line x1="581.5" y1="243.5" x2="593.6" y2="243.5" stroke="#000" stroke-width="2"/>
<line x1="581.5" y1="194.4" x2="593.6" y2="194.4" stroke="#000" stroke-width="2"/>
<line x1="581.5" y1="145.2" x2="593.6" y2="145.2" stroke="#000" stroke-width="2"/>
<line x1="581.5" y1="96.0" x2="593.6" y2="96.0" stroke="#000" stroke-width="2"/>
<line x1="598.7" y1="456.3" x2="598.7" y2="468.4" stroke="#000" stroke-width="2"/>
<line x1="664.4" y1="456.3" x2="664.4" y2="468.4" stroke="#000" stroke-width="2"/>
<line x1="730.1" y1="456.3" x2="730.1" y2="468.4" stroke="#000" stroke-width="2"/>
<line x1="795.8" y1="456.3" x2="795.8" y2="468.4" stroke="#000" stroke-width="2"/>
<line x1="861.5" y1="456.3" x2="861.5" y2="468.4" stroke="#000" stroke-width="2"/>
<line x1="927.2" y1="456.3" x2="927.2" y2="468.4" stroke="#000" stroke-width="2"/>
<path d="M596.5,440.6 L598.2,440.7 L599.9,441.6 L601.6,441.2 L603.3,442.0 L605.0,442.1 L606.7,442.1 L608.6,442.2 L610.4,441.1 L612.2,441.2 L614.1,440.3 L615.7,439.4 L617.4,438.9 L619.0,438.4 L620.6,436.6 L622.2,437.7 L623.9,439.1 L625.5,440.4 L627.1,440.9 L629.0,441.1 L630.8,442.3 L632.6,441.6 L634.5,443.0 L636.1,441.8 L637.7,441.1 L639.3,440.6 L640.9,440.3 L642.5,440.3 L644.1,439.0 L645.7,439.0 L647.5,439.4 L649.4,439.5 L651.2,440.1 L653.1,439.9 L654.9,440.3 L656.5,440.7 L658.1,441.5 L659.8,441.4 L661.4,441.5 L663.0,442.0 L664.6,442.1 L666.3,442.1 L667.9,443.0 L669.6,442.9 L671.2,442.5 L672.9,443.0 L674.5,443.1 L676.2,443.6 L677.8,443.5 L679.5,443.1 L681.1,444.1 L682.8,443.1 L684.5,442.9 L686.1,442.8 L687.8,441.5 L689.4,441.3 L691.1,440.2 L692.8,441.4 L694.6,441.9 L696.3,442.1 L698.0,442.9 L699.7,442.6 L701.5,443.4 L703.2,443.7 L705.0,443.1 L706.9,442.4 L708.7,442.3 L710.6,441.9 L712.4,440.8 L714.1,440.8 L715.7,439.9 L717.4,440.4 L719.0,440.1 L720.7,440.3 L722.3,439.9 L724.0,439.1 L725.6,439.0 L727.3,439.1 L729.2,438.5 L731.0,439.2 L732.9,439.0 L734.7,439.2 L736.6,439.3 L738.2,440.2 L739.9,439.6 L741.5,439.9 L743.1,440.2 L744.7,440.9 L746.4,440.0 L748.0,440.6 L749.6,440.9 L751.5,441.7 L753.3,442.1 L755.2,442.6 L757.0,442.4 L758.9,443.0 L760.7,443.4 L762.3,443.8 L764.0,443.7 L765.6,442.5 L767.3,442.4 L768.9,442.2 L770.6,442.0 L772.2,442.1 L773.9,442.0 L775.5,441.4 L777.1,441.0 L778.7,441.3 L780.3,441.1 L781.9,441.2 L783.6,441.6 L785.2,441.1 L786.8,440.8 L788.4,440.8 L790.0,440.7 L791.7,439.9 L793.3,440.9 L795.0,440.7 L796.7,440.7 L798.3,440.6 L800.0,440.0 L801.7,440.0 L803.3,439.6 L805.0,440.2 L806.7,439.5 L808.3,439.4 L810.0,439.6 L811.7,439.5 L813.3,439.7 L815.0,439.3 L816.7,439.2 L818.3,439.4 L820.0,439.3 L821.7,439.7 L823.3,439.3 L825.0,440.4 L826.7,440.2 L828.3,439.7 L830.0,439.8 L831.7,440.0 L833.3,440.1 L835.0,439.8 L836.7,440.8 L838.3,441.0 L840.0,440.4 L841.7,440.4 L843.3,440.0 L845.0,440.0 L846.7,440.3 L848.3,440.3 L850.0,441.0 L851.7,440.1 L853.3,439.9 L855.0,441.0 L856.7,440.5 L858.3,440.0 L860.0,440.4 L861.7,439.7 L863.3,440.3 L865.0,440.8 L866.7,440.7 L868.3,440.6 L870.0,440.1 L871.7,440.3 L873.3,440.1 L875.0,440.9 L876.7,440.7 L878.3,441.1 L880.0,440.6 L881.7,440.4 L883.3,441.1 L885.0,441.2 L886.7,441.0 L888.3,440.9 L890.0,440.8 L891.7,440.7 L893.3,440.0 L895.0,440.3 L896.7,440.1 L898.3,439.8 L900.0,439.8 L901.7,440.1 L903.3,440.1 L905.0,440.7 L906.7,441.0 L908.3,440.4 L910.0,441.0 L911.7,440.9 L913.3,440.7 L915.0,439.8 L916.7,439.5 L918.3,439.3 L920.0,439.1 L921.8,438.1 L923.6,437.6 L925.4,437.0 L927.7,438.7 L930.0,440.0 L931.7,440.2 L933.3,440.5 L935.0,439.7 L936.7,440.4 L938.3,440.8 L940.0,440.7 L941.7,440.7 L943.3,440.4 L945.0,440.1 L946.7,440.8 L948.3,440.2 L950.0,440.8 L951.7,440.9 L953.3,440.2 L955.0,440.2 L956.7,440.8 L958.3,440.5 L960.0,439.8 L961.6,439.7 L963.2,439.6 L964.8,440.4 L966.4,440.2 L968.0,439.8" fill="none" stroke="#000" stroke-width="6" stroke-linejoin="round" stroke-linecap="round"/>
<path d="M597.2,399.8 C597.6,400.0 598.9,399.7 599.8,401.1 C600.7,402.5 601.5,406.4 602.4,408.2 C603.3,410.0 604.2,412.0 605.0,412.2 C605.8,412.4 606.5,411.2 607.0,409.5 C607.5,407.8 607.6,403.6 608.3,401.7 C608.9,399.8 609.9,398.8 610.9,397.8 C611.9,396.8 613.0,396.0 614.1,395.9 C615.2,395.8 616.4,396.9 617.4,397.2 C618.4,397.5 619.4,399.0 620.0,397.8 C620.6,396.6 620.8,392.6 621.3,390.0 C621.8,387.4 622.4,384.1 623.2,382.2 C624.0,380.3 624.9,379.1 625.9,378.9 C626.9,378.7 627.9,380.0 629.1,380.9 C630.3,381.8 631.8,383.0 633.0,384.1 C634.2,385.2 635.4,386.0 636.3,387.4 C637.2,388.8 637.5,391.3 638.2,392.6 C639.0,393.9 639.7,394.4 640.8,395.2 C641.9,396.0 643.7,396.3 644.8,397.2 C645.9,398.1 646.6,398.8 647.4,400.4 C648.1,402.0 648.5,405.2 649.3,406.9 C650.0,408.6 651.0,410.4 651.9,410.8 C652.8,411.2 653.5,410.5 654.5,409.5 C655.5,408.5 656.6,406.6 657.8,405.0 C659.0,403.4 660.4,401.2 661.7,399.8 C663.0,398.4 664.6,398.8 665.6,396.5 C666.6,394.2 666.7,388.6 667.6,386.1 C668.5,383.6 669.6,382.6 670.8,381.5 C672.0,380.4 673.4,379.7 674.7,379.6 C676.0,379.5 677.5,380.0 678.7,380.9 C679.9,381.8 680.8,383.5 681.9,384.8 C683.0,386.1 684.3,386.8 685.5,388.7 C686.7,390.6 688.0,394.8 689.1,396.5 C690.2,398.2 691.2,398.6 692.4,399.1 C693.6,399.7 695.1,398.5 696.3,399.8 C697.5,401.1 698.6,404.8 699.6,406.9 C700.6,409.0 701.2,411.8 702.2,412.2 C703.2,412.6 704.4,411.5 705.4,409.5 C706.4,407.5 707.0,402.4 708.0,400.4 C709.0,398.3 710.2,397.9 711.3,397.2 C712.4,396.4 713.5,396.9 714.6,395.9 C715.7,394.9 716.8,393.1 717.8,391.3 C718.8,389.5 719.5,387.2 720.4,384.8 C721.3,382.4 722.2,378.8 723.0,377.0 C723.8,375.2 724.2,374.2 725.0,374.3 C725.8,374.4 726.5,376.6 727.6,377.6 C728.7,378.6 730.4,378.8 731.5,380.2 C732.6,381.6 733.3,383.2 734.1,386.1 C734.9,389.0 735.3,395.1 736.1,397.8 C736.9,400.5 737.7,401.4 738.7,402.4 C739.7,403.4 740.8,402.9 741.9,403.7 C743.0,404.4 744.0,405.5 745.2,406.9 C746.4,408.3 747.9,411.6 749.1,412.2 C750.3,412.8 751.3,412.2 752.4,410.2 C753.5,408.2 754.5,402.8 755.6,400.4 C756.7,398.0 757.6,396.8 758.9,395.9 C760.2,395.0 762.0,396.0 763.4,395.2 C764.8,394.4 766.3,393.0 767.4,391.3 C768.5,389.6 768.9,386.8 770.0,384.8 C771.1,382.9 772.5,381.0 773.9,379.6 C775.3,378.2 777.1,376.6 778.5,376.3 C779.9,376.0 781.3,376.2 782.4,377.6 C783.5,379.0 784.4,381.9 785.0,384.8 C785.6,387.7 785.5,393.4 786.3,395.2 C787.1,397.0 788.5,395.7 789.6,395.9 C790.7,396.1 791.8,395.1 792.8,396.5 C793.8,397.9 794.5,401.5 795.4,404.3 C796.3,407.1 797.0,412.6 798.0,413.5 C799.0,414.4 800.2,411.9 801.3,409.5 C802.4,407.1 803.4,401.3 804.6,399.1 C805.8,396.9 807.3,397.8 808.5,396.5 C809.7,395.2 810.5,393.7 811.7,391.3 C812.9,388.9 814.2,384.7 815.6,382.2 C817.0,379.7 818.7,376.7 820.2,376.3 C821.7,375.9 823.3,378.4 824.8,379.6 C826.3,380.8 827.9,382.2 829.3,383.5 C830.7,384.8 832.1,385.7 833.2,387.4 C834.3,389.1 834.8,392.2 835.8,393.9 C836.8,395.6 837.9,395.9 839.1,397.8 C840.3,399.8 841.7,403.0 843.0,405.6 C844.3,408.2 845.8,413.9 846.9,413.5 C848.0,413.1 848.6,406.6 849.5,403.0 C850.4,399.4 851.1,394.2 852.1,391.9 C853.1,389.6 854.2,389.6 855.4,389.3 C856.6,389.0 858.2,390.1 859.3,390.0 C860.4,389.9 861.0,390.4 861.9,388.7 C862.8,387.0 863.6,382.7 864.5,379.6 C865.4,376.6 866.1,372.3 867.1,370.4 C868.1,368.5 869.4,368.1 870.5,368.3 C871.6,368.5 872.9,370.1 874.0,371.8 C875.1,373.5 876.4,375.9 877.4,378.7 C878.4,381.5 879.2,386.2 880.2,388.5 C881.2,390.8 882.4,391.6 883.7,392.7 C885.0,393.8 886.7,393.2 887.9,394.8 C889.1,396.4 889.8,399.6 890.7,402.5 C891.6,405.4 892.6,411.5 893.5,412.2 C894.4,412.9 895.2,409.4 896.3,406.6 C897.3,403.8 898.6,398.2 899.8,395.5 C901.0,392.8 902.0,391.2 903.3,390.6 C904.6,390.0 906.3,393.1 907.5,392.0 C908.7,390.9 909.4,387.0 910.3,384.3 C911.2,381.6 912.1,377.8 913.0,375.9 C913.9,374.0 914.6,373.5 915.8,373.1 C917.0,372.8 918.5,373.9 920.0,373.8 C921.5,373.7 923.7,371.8 924.9,372.4 C926.1,373.0 926.3,374.1 927.0,377.3 C927.7,380.5 928.3,387.8 929.1,391.3 C929.9,394.8 930.7,396.7 931.9,398.3 C933.1,399.9 935.0,399.7 936.1,401.1 C937.2,402.5 937.5,404.5 938.2,406.6 C938.9,408.7 939.4,412.7 940.3,413.6 C941.2,414.5 942.5,412.6 943.8,412.2 C945.1,411.8 946.5,411.9 947.9,411.5 C949.3,411.1 950.8,409.8 952.1,410.1 C953.4,410.5 954.4,412.7 955.6,413.6 C956.8,414.5 957.8,415.9 959.1,415.7 C960.4,415.5 962.0,412.4 963.3,412.2 C964.6,412.0 966.4,413.9 967.0,414.3" fill="none" stroke="#6400c8" stroke-width="6" stroke-linejoin="round" stroke-linecap="round"/>
<path d="M596.7,348.1 C597.5,348.2 599.8,348.4 601.2,348.9 C602.6,349.4 603.8,349.7 604.9,351.1 C606.0,352.5 607.0,355.5 607.9,357.1 C608.8,358.7 609.4,361.6 610.1,360.8 C610.9,360.1 611.6,356.2 612.4,352.6 C613.1,349.0 613.7,343.9 614.6,339.2 C615.5,334.5 616.5,328.4 617.6,324.3 C618.7,320.2 619.9,316.6 621.3,314.6 C622.7,312.6 624.4,312.1 625.8,312.1 C627.2,312.1 628.4,312.8 629.5,314.6 C630.6,316.4 631.6,319.5 632.5,322.8 C633.4,326.1 634.0,330.7 634.7,334.7 C635.4,338.7 636.1,343.6 636.9,346.6 C637.6,349.6 638.3,351.9 639.2,352.6 C640.1,353.4 641.0,351.5 642.2,351.1 C643.4,350.7 645.1,350.1 646.6,350.4 C648.1,350.6 649.7,351.6 651.1,352.6 C652.5,353.6 653.7,355.2 654.8,356.3 C655.9,357.4 656.9,359.4 657.8,359.3 C658.7,359.2 659.2,358.7 660.0,355.6 C660.8,352.5 661.4,345.2 662.3,340.7 C663.2,336.2 664.2,331.6 665.3,328.7 C666.4,325.8 667.5,324.7 669.0,323.5 C670.5,322.3 672.5,321.4 674.2,321.6 C675.9,321.9 677.9,323.2 679.4,325.0 C680.9,326.8 682.4,329.4 683.5,332.5 C684.6,335.6 685.1,339.8 686.0,343.7 C686.9,347.6 687.9,353.9 688.9,355.6 C689.9,357.3 690.9,355.5 691.9,354.1 C692.9,352.7 693.8,348.8 694.9,347.4 C696.0,345.9 697.4,345.0 698.6,345.4 C699.9,345.8 701.3,347.9 702.4,349.6 C703.5,351.3 704.3,354.2 705.3,355.6 C706.3,357.0 707.4,358.3 708.3,357.8 C709.2,357.3 710.0,356.2 710.6,352.6 C711.2,349.0 711.3,341.2 712.0,336.2 C712.7,331.2 713.9,325.8 715.0,322.8 C716.1,319.8 717.3,319.7 718.7,318.3 C720.1,316.9 722.0,315.6 723.2,314.6 C724.5,313.6 725.2,312.3 726.2,312.4 C727.2,312.5 728.2,313.6 729.2,315.3 C730.2,317.0 731.3,319.6 732.2,322.8 C733.1,326.0 733.7,330.7 734.4,334.7 C735.1,338.7 735.7,344.5 736.6,346.6 C737.5,348.7 738.4,348.1 739.6,347.4 C740.9,346.7 742.7,342.9 744.1,342.2 C745.5,341.4 746.6,341.9 747.8,342.9 C749.0,343.9 750.1,346.4 751.5,348.1 C752.9,349.8 754.8,352.7 756.0,353.3 C757.2,353.9 758.1,354.2 759.0,351.8 C759.9,349.4 760.3,343.5 761.2,339.2 C762.1,334.9 763.1,330.0 764.2,325.8 C765.3,321.6 766.5,316.9 767.9,313.8 C769.3,310.7 771.1,308.3 772.4,307.1 C773.7,305.9 774.4,305.8 775.5,306.4 C776.6,307.0 777.8,308.2 778.9,310.9 C780.0,313.6 780.9,318.1 781.9,322.8 C782.9,327.5 784.0,334.9 784.9,339.2 C785.8,343.5 786.1,347.9 787.1,348.9 C788.1,349.9 789.4,346.6 790.9,345.1 C792.4,343.6 794.5,340.4 796.1,339.9 C797.7,339.4 799.2,340.6 800.6,342.2 C802.0,343.8 803.2,347.8 804.3,349.6 C805.4,351.5 806.4,355.3 807.3,353.3 C808.2,351.3 808.8,343.0 809.5,337.7 C810.2,332.4 810.8,325.5 811.7,321.3 C812.6,317.1 813.7,314.3 814.7,312.4 C815.7,310.5 816.6,309.9 817.7,310.1 C818.8,310.3 820.2,312.2 821.4,313.8 C822.6,315.4 823.9,317.1 825.1,319.8 C826.4,322.5 827.8,326.2 828.9,330.2 C830.0,334.2 830.9,339.8 831.8,343.7 C832.7,347.6 833.2,352.3 834.1,353.3 C835.0,354.3 835.9,350.8 837.1,349.6 C838.3,348.4 840.1,346.6 841.5,345.9 C842.9,345.1 844.0,344.7 845.3,345.1 C846.5,345.5 847.8,346.4 849.0,348.1 C850.2,349.9 851.6,354.1 852.7,355.6 C853.8,357.1 854.8,359.3 855.7,357.1 C856.6,354.9 857.0,347.2 857.9,342.2 C858.8,337.2 859.9,331.8 860.9,327.3 C861.9,322.8 862.9,318.4 864.0,315.0 C865.1,311.6 866.4,308.3 867.5,306.8 C868.6,305.3 869.8,305.1 870.9,306.0 C872.0,306.9 873.3,309.0 874.3,311.9 C875.3,314.8 876.0,319.1 876.8,323.6 C877.6,328.1 878.5,334.8 879.3,338.7 C880.1,342.6 880.8,346.4 881.8,347.1 C882.8,347.8 883.8,344.2 885.2,342.9 C886.6,341.6 888.5,339.4 890.2,339.5 C891.9,339.6 893.5,342.4 895.2,343.7 C896.9,345.0 898.8,345.7 900.2,347.1 C901.7,348.5 902.8,353.2 903.9,352.1 C905.0,351.0 905.9,345.7 907.0,340.4 C908.1,335.1 909.2,326.1 910.3,320.2 C911.4,314.3 912.3,308.5 913.7,305.2 C915.1,301.9 917.2,300.4 918.7,300.1 C920.2,299.8 921.6,301.3 922.9,303.5 C924.1,305.7 925.2,309.3 926.2,313.5 C927.2,317.7 927.9,323.9 928.7,328.6 C929.6,333.4 930.3,339.3 931.3,342.0 C932.3,344.7 933.5,345.4 934.6,344.6 C935.7,343.8 937.0,337.1 938.0,337.0 C939.0,336.9 939.5,341.5 940.5,343.7 C941.5,345.9 942.7,348.7 943.8,350.4 C944.9,352.1 945.9,354.1 947.2,353.8 C948.5,353.5 950.0,350.0 951.4,348.7 C952.8,347.4 954.4,345.9 955.6,346.2 C956.9,346.5 957.8,349.4 958.9,350.4 C960.0,351.4 961.0,352.0 962.3,352.1 C963.6,352.2 965.8,351.4 966.5,351.3" fill="none" stroke="#002ac8" stroke-width="6" stroke-linejoin="round" stroke-linecap="round"/>
<path d="M597.4,281.3 C597.9,280.9 599.3,279.7 600.2,278.6 C601.1,277.5 602.1,275.5 603.0,274.8 C603.9,274.1 604.9,273.7 605.8,274.3 C606.7,274.9 607.7,276.3 608.6,278.6 C609.5,280.9 610.6,285.9 611.4,287.9 C612.2,289.9 612.7,291.5 613.3,290.7 C613.9,289.9 614.3,287.9 615.1,283.2 C615.9,278.5 616.8,268.9 617.9,262.7 C619.0,256.5 620.5,250.0 621.7,246.0 C623.0,242.0 624.2,240.1 625.4,238.5 C626.6,236.9 628.0,236.1 629.1,236.7 C630.2,237.3 631.0,238.8 631.9,242.2 C632.8,245.6 633.8,251.5 634.7,257.1 C635.6,262.7 636.6,269.6 637.5,275.8 C638.4,282.0 639.5,290.7 640.3,294.4 C641.1,298.1 641.3,298.7 642.1,298.1 C642.9,297.5 644.0,293.5 644.9,290.7 C645.8,287.9 646.6,284.1 647.7,281.3 C648.8,278.5 650.4,275.6 651.5,273.9 C652.6,272.2 653.3,271.2 654.2,271.1 C655.1,271.0 656.1,271.3 657.0,273.0 C657.9,274.7 658.9,278.1 659.8,281.3 C660.7,284.6 661.8,290.0 662.6,292.5 C663.4,295.0 663.9,297.4 664.5,296.2 C665.1,295.0 665.6,290.7 666.4,285.1 C667.2,279.5 668.2,269.9 669.1,262.7 C670.0,255.5 671.0,247.5 671.9,242.2 C672.8,236.9 673.8,233.4 674.7,231.1 C675.6,228.8 676.4,228.0 677.5,228.3 C678.6,228.6 680.0,230.0 681.2,232.9 C682.4,235.8 683.6,240.4 684.5,246.0 C685.4,251.6 685.9,259.7 686.5,266.5 C687.1,273.3 687.7,281.9 688.4,286.9 C689.1,291.8 690.0,295.3 690.8,296.2 C691.6,297.1 692.2,294.7 693.0,292.5 C693.8,290.3 694.7,285.2 695.8,283.2 C696.9,281.2 698.4,280.9 699.6,280.4 C700.9,279.8 702.1,279.4 703.3,279.9 C704.5,280.4 705.9,281.1 707.0,283.2 C708.1,285.3 709.0,290.3 709.8,292.5 C710.6,294.7 711.2,296.5 712.0,296.2 C712.8,295.9 713.6,295.3 714.5,290.7 C715.4,286.1 716.1,274.8 717.2,268.3 C718.3,261.8 719.8,256.1 721.0,251.6 C722.2,247.1 723.5,243.3 724.7,241.3 C725.9,239.3 726.9,239.0 728.0,239.5 C729.1,240.0 730.2,240.5 731.2,244.1 C732.2,247.7 733.1,255.0 734.0,260.9 C734.9,266.8 736.0,275.5 736.8,279.5 C737.6,283.5 737.9,285.4 738.7,285.1 C739.5,284.8 740.4,280.6 741.5,277.6 C742.6,274.7 744.0,269.4 745.2,267.4 C746.4,265.4 747.8,265.4 748.9,265.5 C750.0,265.6 750.8,266.0 751.7,268.3 C752.6,270.6 753.6,275.8 754.5,279.5 C755.4,283.2 756.4,288.5 757.3,290.7 C758.2,292.9 759.2,294.4 760.1,292.5 C761.0,290.6 762.0,286.3 762.9,279.5 C763.8,272.7 764.6,260.3 765.7,251.6 C766.8,242.9 768.0,232.9 769.4,227.3 C770.8,221.7 772.6,219.1 774.0,218.0 C775.4,216.9 776.3,216.5 777.5,220.5 C778.7,224.5 780.1,233.9 781.2,242.2 C782.3,250.5 783.1,263.0 784.0,270.2 C784.9,277.4 785.9,283.6 786.8,285.1 C787.7,286.7 788.5,282.3 789.6,279.5 C790.7,276.7 792.0,270.9 793.3,268.3 C794.6,265.8 796.2,264.2 797.6,264.2 C799.0,264.2 800.4,266.2 801.7,268.3 C803.0,270.4 804.2,275.0 805.4,276.7 C806.6,278.4 808.0,281.2 809.1,278.6 C810.2,276.0 810.8,267.0 811.9,260.9 C813.0,254.8 814.2,246.4 815.6,242.2 C817.0,238.0 818.9,236.0 820.3,235.7 C821.7,235.4 822.9,237.4 824.0,240.4 C825.1,243.4 825.9,248.1 826.8,253.4 C827.7,258.7 828.5,265.8 829.6,272.0 C830.7,278.2 832.2,288.5 833.3,290.7 C834.4,292.9 835.2,287.9 836.1,285.1 C837.0,282.3 837.8,277.0 838.9,273.9 C840.0,270.8 841.4,268.7 842.6,266.5 C843.9,264.3 845.1,261.5 846.4,260.9 C847.6,260.3 848.9,260.2 850.1,262.7 C851.3,265.2 852.7,271.8 853.8,275.8 C854.9,279.8 855.7,285.7 856.6,286.9 C857.5,288.1 858.5,287.5 859.4,283.2 C860.3,278.9 861.3,267.7 862.2,260.9 C863.1,254.1 864.1,246.9 865.0,242.2 C865.9,237.5 866.4,233.8 867.4,232.9 C868.4,232.0 870.1,233.8 871.2,236.6 C872.3,239.4 873.1,243.5 874.0,249.7 C874.9,255.9 875.9,266.8 876.8,273.9 C877.7,281.0 878.6,290.3 879.5,292.5 C880.4,294.7 881.2,290.0 882.3,286.9 C883.4,283.8 884.7,277.3 886.1,273.9 C887.5,270.5 889.3,267.3 890.7,266.4 C892.1,265.5 893.3,266.4 894.4,268.3 C895.5,270.2 896.3,274.8 897.2,277.6 C898.1,280.4 899.1,285.3 900.0,285.0 C900.9,284.7 901.9,281.3 902.8,275.7 C903.7,270.1 904.5,259.9 905.6,251.5 C906.7,243.1 907.8,231.6 909.3,225.5 C910.8,219.4 913.2,216.1 914.9,215.2 C916.6,214.3 918.2,216.0 919.6,219.9 C921.0,223.8 922.2,230.8 923.3,238.5 C924.4,246.2 925.2,258.9 926.1,266.4 C927.0,273.8 928.0,281.6 928.9,283.2 C929.8,284.8 930.5,277.6 931.7,275.7 C932.9,273.8 934.6,273.1 936.3,272.0 C938.0,270.9 940.0,269.7 941.9,269.2 C943.8,268.7 945.6,268.6 947.5,269.2 C949.4,269.8 951.6,272.6 953.1,272.9 C954.6,273.2 955.4,271.6 956.8,271.1 C958.2,270.6 959.9,269.9 961.4,270.1 C962.9,270.3 965.2,272.1 966.0,272.5" fill="none" stroke="#00964b" stroke-width="6" stroke-linejoin="round" stroke-linecap="round"/>
<path d="M597.3,116.5 C598.5,116.8 602.7,117.6 604.5,118.4 C606.3,119.2 607.2,118.8 608.2,121.3 C609.2,123.8 609.6,127.4 610.6,133.4 C611.6,139.5 613.2,150.7 614.2,157.6 C615.2,164.5 615.6,171.4 616.6,174.6 C617.6,177.8 619.1,176.5 620.3,176.5 C621.5,176.5 622.5,174.0 623.9,174.6 C625.3,175.2 627.5,181.1 628.7,179.9 C629.9,178.7 630.2,173.8 631.2,167.3 C632.2,160.8 633.6,147.5 634.8,140.7 C636.0,133.8 637.0,130.0 638.4,126.2 C639.8,122.4 641.7,119.7 643.3,117.7 C644.9,115.7 646.5,114.3 648.1,114.1 C649.7,113.9 651.2,114.3 653.0,116.5 C654.8,118.7 657.4,123.0 659.0,127.4 C660.6,131.8 661.4,136.8 662.6,143.1 C663.8,149.3 665.3,160.1 666.3,164.9 C667.3,169.8 667.7,171.6 668.7,172.2 C669.7,172.8 670.9,168.7 672.3,168.5 C673.7,168.3 675.9,170.5 677.2,171.0 C678.5,171.5 679.2,174.4 680.1,171.7 C681.0,169.0 681.6,161.4 682.6,155.0 C683.6,148.6 684.6,139.2 686.0,133.4 C687.4,127.6 688.9,122.9 690.9,120.1 C692.9,117.3 696.0,116.7 698.2,116.5 C700.4,116.3 702.2,117.3 704.2,118.9 C706.2,120.5 708.7,121.8 710.3,126.2 C711.9,130.6 712.7,138.2 713.9,145.5 C715.1,152.8 716.5,162.4 717.5,169.7 C718.5,177.0 719.1,184.2 720.0,189.1 C720.9,193.9 722.3,199.2 723.1,198.8 C723.9,198.4 724.1,192.3 724.8,186.7 C725.5,181.0 726.2,173.4 727.2,164.9 C728.2,156.4 729.4,143.1 730.8,135.8 C732.2,128.5 733.7,124.7 735.7,121.3 C737.7,117.9 740.6,115.7 743.0,115.3 C745.4,114.9 748.0,116.7 750.2,118.9 C752.4,121.1 754.3,123.4 756.3,128.6 C758.3,133.8 760.8,141.5 762.3,150.0 C763.8,158.5 764.0,170.2 765.3,179.8 C766.5,189.4 768.5,204.8 769.8,207.5 C771.1,210.2 772.2,200.9 773.3,196.0 C774.4,191.1 775.4,185.7 776.5,178.0 C777.6,170.3 778.9,158.6 780.2,150.0 C781.5,141.4 783.0,132.0 784.5,126.2 C786.0,120.4 787.2,118.0 789.4,115.3 C791.6,112.6 795.8,110.3 797.8,109.9 C799.8,109.5 799.9,110.3 801.5,112.8 C803.1,115.3 805.6,118.8 807.5,125.0 C809.4,131.2 811.1,140.2 812.6,150.0 C814.1,159.8 815.5,172.2 816.8,183.5 C818.1,194.8 819.0,217.5 820.4,217.5 C821.8,217.5 823.5,194.8 825.1,183.5 C826.7,172.2 828.9,159.2 830.2,150.0 C831.5,140.8 831.9,133.2 833.0,128.0 C834.1,122.8 835.0,121.8 836.6,118.9 C838.2,116.0 840.4,111.0 842.6,110.4 C844.8,109.8 847.3,113.1 849.9,115.3 C852.5,117.5 856.4,117.9 858.4,123.7 C860.4,129.5 860.7,140.6 862.0,150.0 C863.3,159.4 864.8,170.8 866.0,180.0 C867.2,189.2 868.1,198.5 869.0,205.0 C869.9,211.5 870.5,219.0 871.2,219.0 C872.0,219.0 872.5,211.5 873.5,205.0 C874.5,198.5 875.9,189.2 877.0,180.0 C878.1,170.8 879.3,158.3 880.4,150.0 C881.5,141.7 882.5,137.2 883.7,130.2 C885.0,123.2 886.5,112.3 887.9,107.9 C889.3,103.5 890.5,104.2 892.1,103.7 C893.7,103.2 895.8,104.8 897.7,105.1 C899.6,105.4 901.9,104.3 903.3,105.7 C904.7,107.1 905.0,107.5 906.1,113.5 C907.2,119.5 908.8,131.2 910.2,141.4 C911.6,151.6 913.2,165.9 914.4,174.9 C915.6,183.9 916.4,191.6 917.2,195.5 C918.0,199.4 918.3,201.5 919.2,198.5 C920.1,195.5 921.5,185.8 922.8,177.7 C924.1,169.6 925.6,159.6 927.0,149.8 C928.4,140.0 929.8,127.5 931.2,119.1 C932.6,110.7 933.9,104.2 935.4,99.5 C936.9,94.8 938.5,92.2 940.1,90.6 C941.7,89.0 943.7,89.8 945.1,90.1 C946.5,90.4 947.1,91.2 948.4,92.3 C949.7,93.4 951.7,96.2 952.9,96.8 C954.1,97.4 954.4,96.0 955.7,95.7 C957.0,95.4 959.1,94.7 960.7,95.1 C962.3,95.5 964.2,97.4 965.2,97.9 C966.2,98.5 966.7,98.3 967.0,98.4" fill="none" stroke="#ff0000" stroke-width="6" stroke-linejoin="round" stroke-linecap="round"/>
<line x1="723.7" y1="100.4" x2="727.9" y2="454" stroke="#000" stroke-width="2" stroke-dasharray="18 7.05" stroke-dashoffset="16.25"/>
<line x1="843.4" y1="96" x2="846.8" y2="453.7" stroke="#000" stroke-width="2" stroke-dasharray="2.2 2.3"/>
<line x1="955.8" y1="71" x2="959.3" y2="454" stroke="#000" stroke-width="2" stroke-dasharray="9.8 6.2"/>
<g font-family='"Liberation Sans", sans-serif'>
<text x="358.25" y="18.10" font-size="18.87" font-weight="bold" font-style="italic" fill="#000" textLength="86.94" lengthAdjust="spacingAndGlyphs">4-fold site</text>
<text x="476.95" y="18.10" font-size="18.87" font-weight="bold" font-style="italic" fill="#000" textLength="85.54" lengthAdjust="spacingAndGlyphs">2-fold site</text>
<text x="506.05" y="51.62" font-size="29.04" font-weight="normal" font-style="italic" fill="#000" stroke="#000" stroke-width="0.55" textLength="33.10" lengthAdjust="spacingAndGlyphs">(e)</text>
<text x="509.25" y="103.42" font-size="19.11" font-weight="bold" font-style="normal" fill="#000" textLength="54.88" lengthAdjust="spacingAndGlyphs">70x10</text>
<text x="563.86" y="90.50" font-size="12.21" font-weight="bold" font-style="normal" fill="#000" textLength="12.51" lengthAdjust="spacingAndGlyphs">-9</text>
<text x="676.94" y="91.54" font-size="18.87" font-weight="bold" font-style="italic" fill="#000" textLength="85.54" lengthAdjust="spacingAndGlyphs">2-fold site</text>
<text x="794.12" y="89.54" font-size="18.87" font-weight="bold" font-style="italic" fill="#000" textLength="86.47" lengthAdjust="spacingAndGlyphs">4-fold site</text>
<text x="894.31" y="62.66" font-size="19.49" font-weight="bold" font-style="italic" fill="#000" textLength="107.92" lengthAdjust="spacingAndGlyphs">Unpatterned</text>
<text x="959.78" y="163.92" font-size="18.91" font-weight="bold" font-style="italic" fill="#ff1010" textLength="55.47" lengthAdjust="spacingAndGlyphs">150nm</text>
<text x="961.78" y="255.56" font-size="19.43" font-weight="bold" font-style="italic" fill="#0c8a2a" textLength="56.47" lengthAdjust="spacingAndGlyphs">100nm</text>
<text x="968.56" y="337.98" font-size="18.91" font-weight="bold" font-style="italic" fill="#2020ff" textLength="48.41" lengthAdjust="spacingAndGlyphs">60nm</text>
<text x="972.82" y="402.98" font-size="18.06" font-weight="bold" font-style="italic" fill="#8a18e0" textLength="47.42" lengthAdjust="spacingAndGlyphs">30nm</text>
<text x="978.18" y="444.18" font-size="16.34" font-weight="bold" font-style="italic" fill="#000" textLength="37.44" lengthAdjust="spacingAndGlyphs">0nm</text>
<text x="701.08" y="528.09" font-size="21.39" font-weight="bold" font-style="italic" fill="#000" textLength="165.36" lengthAdjust="spacingAndGlyphs">Lateral Size (m)</text>
<text x="130.70" y="494.06" font-size="21.60" font-weight="bold" font-style="italic" fill="#000" textLength="72.96" lengthAdjust="spacingAndGlyphs">500 nm</text>
<text x="15.90" y="519.22" font-size="17.29" font-weight="bold" font-style="italic" fill="#000" textLength="39.23" lengthAdjust="spacingAndGlyphs">[110]</text>
<text x="31.49" y="50.94" font-size="22.53" font-weight="normal" font-style="italic" fill="#fff" stroke="#fff" stroke-width="0.55" textLength="29.01" lengthAdjust="spacingAndGlyphs">(a)</text>
<text x="262.28" y="48.46" font-size="20.91" font-weight="normal" font-style="italic" fill="#fff" stroke="#fff" stroke-width="0.55" textLength="32.07" lengthAdjust="spacingAndGlyphs">(b)</text>
<text x="33.43" y="277.26" font-size="20.96" font-weight="normal" font-style="italic" fill="#fff" stroke="#fff" stroke-width="0.55" textLength="28.71" lengthAdjust="spacingAndGlyphs">(c)</text>
<text x="268.30" y="275.18" font-size="23.18" font-weight="normal" font-style="italic" fill="#fff" stroke="#fff" stroke-width="0.55" textLength="32.53" lengthAdjust="spacingAndGlyphs">(d)</text>
<text x="584.81" y="492.82" font-size="19.57" font-weight="bold" font-style="normal" fill="#000" textLength="27.51" lengthAdjust="spacingAndGlyphs">0.0</text>
<text x="650.29" y="492.82" font-size="19.57" font-weight="bold" font-style="normal" fill="#000" textLength="27.99" lengthAdjust="spacingAndGlyphs">0.5</text>
<text x="716.10" y="492.82" font-size="19.57" font-weight="bold" font-style="normal" fill="#000" textLength="28.47" lengthAdjust="spacingAndGlyphs">1.0</text>
<text x="780.90" y="492.82" font-size="19.57" font-weight="bold" font-style="normal" fill="#000" textLength="28.97" lengthAdjust="spacingAndGlyphs">1.5</text>
<text x="847.32" y="492.82" font-size="19.57" font-weight="bold" font-style="normal" fill="#000" textLength="28.56" lengthAdjust="spacingAndGlyphs">2.0</text>
<text x="890.05" y="493.00" font-size="19.12" font-weight="bold" font-style="normal" fill="#000" textLength="60.36" lengthAdjust="spacingAndGlyphs">2.5x10</text>
<text x="951.55" y="479.45" font-size="10.80" font-weight="bold" font-style="normal" fill="#000" textLength="12.21" lengthAdjust="spacingAndGlyphs">-6</text>
<text x="564.81" y="445.89" font-size="19.43" font-weight="bold" font-style="normal" fill="#000" textLength="11.43" lengthAdjust="spacingAndGlyphs">0</text>
<text x="553.36" y="396.71" font-size="19.43" font-weight="bold" font-style="normal" fill="#000" textLength="23.15" lengthAdjust="spacingAndGlyphs">10</text>
<text x="553.81" y="347.53" font-size="19.43" font-weight="bold" font-style="normal" fill="#000" textLength="22.00" lengthAdjust="spacingAndGlyphs">20</text>
<text x="553.81" y="298.35" font-size="19.43" font-weight="bold" font-style="normal" fill="#000" textLength="22.00" lengthAdjust="spacingAndGlyphs">30</text>
<text x="554.71" y="249.17" font-size="19.43" font-weight="bold" font-style="normal" fill="#000" textLength="22.00" lengthAdjust="spacingAndGlyphs">40</text>
<text x="553.81" y="199.96" font-size="19.43" font-weight="bold" font-style="normal" fill="#000" textLength="22.05" lengthAdjust="spacingAndGlyphs">50</text>
<text x="553.81" y="150.78" font-size="19.43" font-weight="bold" font-style="normal" fill="#000" textLength="22.00" lengthAdjust="spacingAndGlyphs">60</text>
<text transform="translate(529,323.3) rotate(-90)" font-size="20.5" font-weight="bold" font-style="italic" textLength="100.5" lengthAdjust="spacingAndGlyphs">Height (m)</text>
<text transform="translate(21.0,443.1) rotate(-90)" font-size="20.5" font-weight="bold" font-style="italic" textLength="41.4" lengthAdjust="spacingAndGlyphs">[110]</text>
</g></svg>
</body></html>
